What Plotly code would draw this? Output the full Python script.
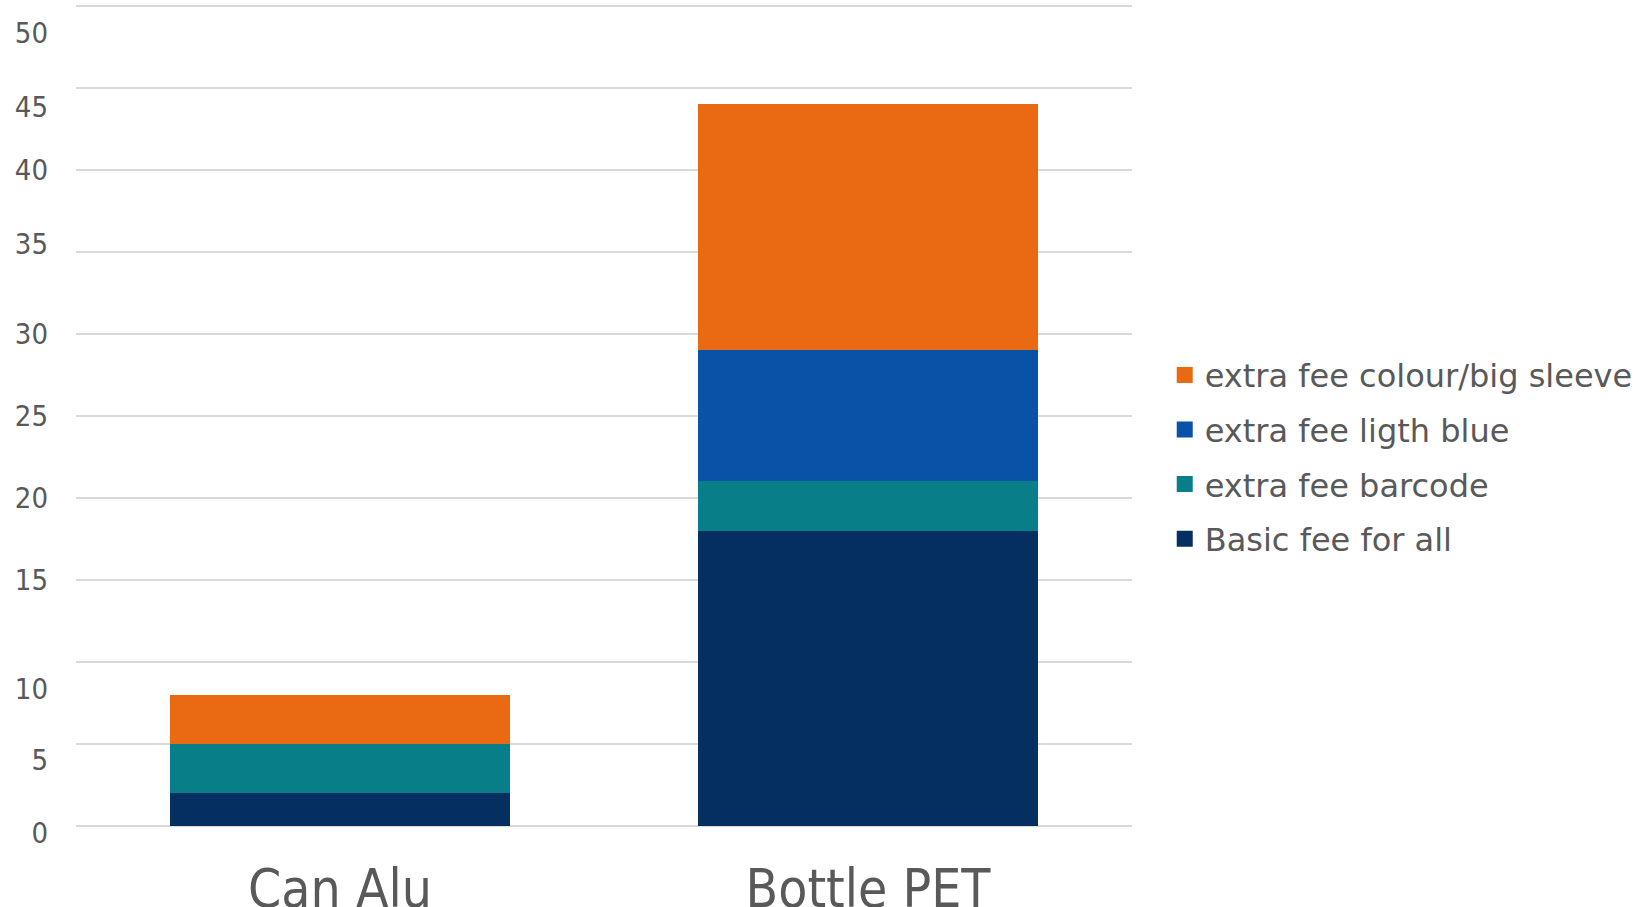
import plotly.graph_objects as go

# ---- data ----
categories = ["Can Alu", "Bottle PET"]
series_names = ["Basic fee for all", "extra fee barcode", "extra fee ligth blue", "extra fee colour/big sleeve"]
basic_fee = [2, 18]
barcode_fee = [3, 3]
light_blue_fee = [0, 8]
colour_fee = [3, 15]
y_ticks = [0, 5, 10, 15, 20, 25, 30, 35, 40, 45, 50]
y_tick_text = ["0", "5", "10", "15", "20", "25", "30", "35", "40", "45", "50"]

# ---- style ----
colors = ["#052E61", "#077E88", "#0A52A8", "#EA6913"]
label_shift_px = [7, 16, 27, 0, 0, 0, 0, -8, 0, 19, 27]  # downward pixel shift of tick labels
TEXT = "#595959"
W, H = 1640, 907
ML, MR, MT, MB = 76, 508, 4, 73
Y0, Y1 = -0.5, 50.1
px_per_unit = (H - MT - MB) / (Y1 - Y0)
label_pos = [v - s / px_per_unit for v, s in zip(y_ticks, label_shift_px)]

fig = go.Figure()
values = [basic_fee, barcode_fee, light_blue_fee, colour_fee]
for name, vals, col in zip(series_names, values, colors):
    fig.add_trace(go.Bar(x=categories, y=vals, name=name, marker=dict(color=col, line=dict(width=0)),
                         showlegend=False))

# legend entries (larger square swatches)
for i in [3, 2, 1, 0]:
    fig.add_trace(go.Scatter(x=[None], y=[None], mode="markers", name=series_names[i],
                             legendgroup=series_names[i],
                             marker=dict(symbol="square", size=16, color=colors[i])))

# invisible overlay axis to carry the tick labels
fig.add_trace(go.Scatter(x=[None], y=[None], yaxis="y2", showlegend=False, hoverinfo="skip"))

fig.update_layout(
    width=W, height=H,
    margin=dict(l=ML, r=MR, t=MT, b=MB, pad=0, autoexpand=False),
    barmode="stack",
    bargap=0.356,
    plot_bgcolor="white", paper_bgcolor="white",
    font=dict(family="DejaVu Sans, Verdana, sans-serif", color=TEXT),
    xaxis=dict(showgrid=False, showline=False, zeroline=False, ticks="", ticklabelstandoff=19,
               automargin=False,
               tickfont=dict(family="DejaVu Sans Condensed, DejaVu Sans", size=53, color=TEXT)),
    yaxis=dict(range=[Y0, Y1], tickvals=y_ticks, showticklabels=False, showgrid=True, automargin=False,
               gridcolor="#D9D9D9", gridwidth=2, zeroline=False, showline=False, ticks=""),
    yaxis2=dict(range=[Y0, Y1], overlaying="y", side="left", tickvals=label_pos, ticktext=y_tick_text,
                showgrid=False, zeroline=False, showline=False, ticks="", ticklabelstandoff=27,
                automargin=False,
                tickfont=dict(family="DejaVu Sans Condensed, DejaVu Sans", size=29, color=TEXT)),
    legend=dict(x=1.031, xanchor="left", y=0.586, yanchor="top",
                font=dict(family="DejaVu Sans, Verdana", size=32, color=TEXT),
                traceorder="grouped", tracegroupgap=10, itemclick=False,
                bgcolor="rgba(0,0,0,0)"),
)

fig.write_html("out.html")
